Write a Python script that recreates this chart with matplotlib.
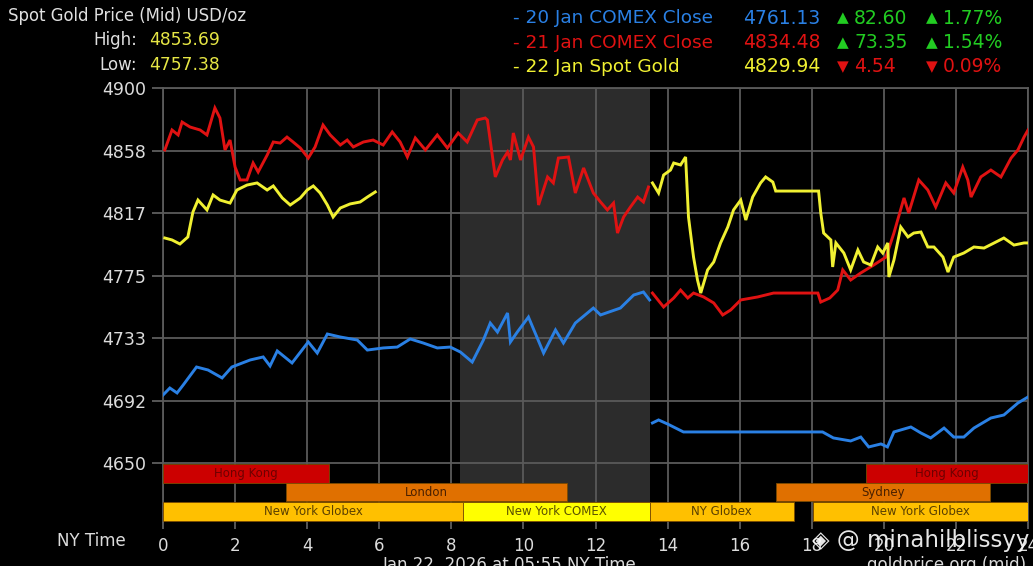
import matplotlib
matplotlib.use("Agg")
import matplotlib.pyplot as plt

# --- data (hours NY time, USD/oz) ---
blue1_h = [0, 0.19, 0.39, 0.56, 0.93, 1.25, 1.64, 1.91, 2.42, 2.78, 2.97, 3.17, 3.58, 4.03, 4.28,
           4.56, 4.92, 5.39, 5.67, 6.11, 6.5, 6.86, 7.22, 7.61, 7.97, 8.25, 8.58, 8.89, 9.08, 9.28,
           9.56, 9.64, 9.83, 10.14, 10.56, 10.89, 11.11, 11.44, 11.94, 12.14, 12.69, 13.06, 13.33, 13.5]
blue1_p = [4695.3, 4700, 4696.7, 4702, 4714, 4712, 4706.7, 4714, 4718.7, 4720.7, 4714.7, 4724.7,
           4716.7, 4730.7, 4723.3, 4736, 4734, 4732, 4725.3, 4726.7, 4727.3, 4732.7, 4730, 4726.7,
           4727.3, 4724, 4717.3, 4732, 4743.3, 4737.3, 4750, 4730.7, 4737.3, 4747.3, 4723.3, 4738.7,
           4730, 4743.3, 4753.3, 4748.7, 4753.3, 4762, 4764, 4758.7]
blue2_h = [13.58, 13.75, 14.0, 14.44, 18.3, 18.6, 19.08, 19.36, 19.58, 19.92, 20.1, 20.28, 20.75,
           21.03, 21.3, 21.67, 21.94, 22.22, 22.5, 22.97, 23.33, 23.72, 24.0]
blue2_p = [4676.7, 4678.7, 4676, 4670.7, 4670.7, 4666.7, 4664.7, 4667.3, 4660.7, 4662.7, 4660.7,
           4670.7, 4674, 4670, 4666.7, 4673.3, 4667.3, 4667.3, 4673.3, 4680, 4682, 4690, 4694]

red1_h = [0.05, 0.25, 0.42, 0.53, 0.75, 1.03, 1.22, 1.44, 1.58, 1.72, 1.86, 2.0, 2.14, 2.33, 2.5,
          2.64, 2.89, 3.06, 3.25, 3.44, 3.61, 3.81, 4.03, 4.22, 4.44, 4.64, 4.92, 5.11, 5.28, 5.56,
          5.83, 6.11, 6.36, 6.58, 6.78, 7.0, 7.28, 7.61, 7.89, 8.19, 8.44, 8.72, 8.94, 9.0, 9.22,
          9.42, 9.56, 9.64, 9.72, 9.92, 10.14, 10.28, 10.42, 10.67, 10.83, 10.97, 11.25, 11.44,
          11.67, 11.94, 12.14, 12.33, 12.5, 12.61, 12.78, 12.97, 13.17, 13.33, 13.47]
red1_p = [4858.7, 4872, 4868.7, 4877.3, 4874, 4872, 4868.7, 4886.7, 4880, 4858.7, 4865.3, 4847.3,
          4838.7, 4838.7, 4850, 4844, 4855.3, 4864, 4863.3, 4867.3, 4864, 4860, 4853.3, 4860.7,
          4875.3, 4868.7, 4862, 4865.3, 4860.7, 4864, 4865.3, 4862, 4870.7, 4864, 4854, 4866.7,
          4858.7, 4868.7, 4860, 4870, 4864, 4878.7, 4880, 4878.7, 4840.7, 4852, 4857.3, 4852, 4870,
          4852, 4867.3, 4860.7, 4822, 4840.7, 4836.7, 4853.3, 4854, 4830, 4846.7, 4830, 4824,
          4818.7, 4823.3, 4803.3, 4814, 4820.7, 4827.3, 4824, 4834]
red2_h = [13.58, 13.89, 14.17, 14.36, 14.56, 14.72, 15.0, 15.28, 15.53, 15.75, 16.03, 16.5, 16.94,
          18.17, 18.25, 18.5, 18.72, 18.86, 19.08, 19.36, 19.72, 20.06, 20.28, 20.56, 20.69, 20.97,
          21.22, 21.44, 21.72, 21.94, 22.19, 22.33, 22.42, 22.69, 22.97, 23.25, 23.53, 23.72,
          23.89, 24.0]
red2_p = [4763.3, 4754, 4760, 4765.3, 4760, 4763.3, 4760.7, 4756.7, 4748.7, 4752, 4758.7, 4760.7,
          4763.3, 4763.3, 4757.3, 4760, 4765.3, 4778.7, 4772, 4776.7, 4782, 4787.3, 4803.3, 4826.7,
          4816.7, 4838.7, 4832, 4820.7, 4836.7, 4830, 4847.3, 4838.7, 4827.3, 4840.7, 4845.3,
          4840.7, 4853.3, 4858.7, 4867.3, 4872]

yel1_h = [0.05, 0.25, 0.47, 0.69, 0.83, 0.97, 1.22, 1.39, 1.58, 1.86, 2.05, 2.33, 2.61, 2.89, 3.06,
          3.31, 3.53, 3.81, 4.0, 4.17, 4.36, 4.56, 4.72, 4.92, 5.19, 5.47, 5.67, 5.89]
yel1_p = [4800, 4798.7, 4796, 4800.7, 4817.3, 4825.3, 4818.7, 4828.7, 4825.3, 4823.3, 4832, 4835.3,
          4836.7, 4832, 4834.7, 4826.7, 4822, 4826.7, 4832, 4834.7, 4830, 4822, 4814, 4820, 4822.7,
          4824, 4827.3, 4830.7]
yel2_h = [13.58, 13.75, 13.89, 14.08, 14.17, 14.36, 14.5, 14.58, 14.72, 14.83, 14.92, 15.11, 15.28,
          15.47, 15.67, 15.83, 16.03, 16.17, 16.36, 16.58, 16.72, 16.92, 17.0, 18.19, 18.25, 18.33,
          18.53, 18.58, 18.67, 18.89, 19.08, 19.28, 19.44, 19.64, 19.83, 19.97, 20.11, 20.14, 20.28,
          20.47, 20.67, 20.83, 21.03, 21.22, 21.39, 21.64, 21.78, 21.94, 22.22, 22.5, 22.78, 23.06,
          23.33, 23.61, 23.89, 24.0]
yel2_p = [4836.7, 4830, 4842, 4845.3, 4850, 4848.7, 4854, 4814, 4787.3, 4772, 4763.3, 4778.7, 4784,
          4796.7, 4807.3, 4818.7, 4825.3, 4812, 4827.3, 4836.7, 4840.7, 4837.3, 4831.3, 4831.3,
          4816.7, 4803.3, 4798.7, 4780.7, 4796.7, 4790, 4778.7, 4792, 4784, 4782, 4794, 4790,
          4796.7, 4774, 4785.3, 4807.3, 4800.7, 4803.3, 4804, 4794, 4794, 4787.3, 4777.3, 4787.3,
          4790, 4794, 4793.3, 4796.7, 4800, 4795.3, 4796.7, 4796.7]

# trading sessions: name, start, end, row (0 = top)
sess_names = ["Hong Kong", "Hong Kong", "London", "Sydney", "New York Globex", "New York COMEX",
              "NY Globex", "New York Globex"]
sess_start = [0, 19.5, 3.42, 17.0, 0, 8.33, 13.5, 18.03]
sess_end = [4.6, 24, 11.22, 22.94, 8.33, 13.5, 17.5, 24]
sess_row = [0, 0, 1, 1, 2, 2, 2, 2]

legend_labels = ["- 20 Jan COMEX Close", "- 21 Jan COMEX Close", "- 22 Jan Spot Gold"]
legend_values = ["4761.13", "4834.48", "4829.94"]
legend_change = ["82.60", "73.35", "4.54"]
legend_pct = ["1.77%", "1.54%", "0.09%"]
legend_up = [True, True, False]

high_val = "4853.69"
low_val = "4757.38"

BLUE = "#2a80e4"
RED = "#e01212"
YEL = "#f0f032"
GREEN = "#22cc22"

W, H = 1033, 566
fig = plt.figure(figsize=(W / 100, H / 100), dpi=100, facecolor="black")


def fx(x):
    return x / W


def fy(y):
    return 1 - y / H


ax = fig.add_axes([fx(163), fy(522), (1028 - 163) / W, (522 - 88) / H])
ax.set_facecolor("black")
ax.set_xlim(0, 24)
ax.set_ylim(4610.67, 4900)

# shaded COMEX session
ax.axvspan(8.25, 13.5, color="#2c2c2c", zorder=0, lw=0)

yt = [4650 + i * 250 / 6 for i in range(7)]
ax.set_yticks(yt)
ax.set_yticklabels(["%d" % round(v) for v in yt])
ax.set_xticks(range(0, 25, 2))
ax.grid(True, color="#5a5a5a", lw=1.3, zorder=1)
for s in ax.spines.values():
    s.set_color("#5a5a5a")
    s.set_linewidth(1.3)
ax.spines["bottom"].set_visible(False)
ax.tick_params(axis="y", colors="#666666", labelcolor="#dcdcdc", labelsize=12.5, length=8, width=1.2, pad=4)
ax.tick_params(axis="x", colors="#666666", labelcolor="#dcdcdc", labelsize=12, length=5, width=1.2, pad=6)

# price lines
for hs, ps, c in [(blue1_h, blue1_p, BLUE), (blue2_h, blue2_p, BLUE),
                  (red1_h, red1_p, RED), (red2_h, red2_p, RED),
                  (yel1_h, yel1_p, YEL), (yel2_h, yel2_p, YEL)]:
    ax.plot(hs, ps, color=c, lw=2.1, zorder=3, solid_joinstyle="miter")

# session bars
row_y = [4643.0, 4630.6, 4617.8]
row_h = 12.4
sess_colors = {"Hong Kong": ("#cc0000", "#6e0000"), "London": ("#e07000", "#4a2000"),
               "Sydney": ("#e07000", "#4a2000"), "New York Globex": ("#ffc000", "#5a4000"),
               "NY Globex": ("#ffc000", "#5a4000"), "New York COMEX": ("#ffff00", "#5a5000")}
for name, a, b, r in zip(sess_names, sess_start, sess_end, sess_row):
    fc, tc = sess_colors[name]
    ax.barh(row_y[r], b - a, left=a, height=row_h, color=fc, edgecolor="#7a4a00", lw=0.6, zorder=4)
    ax.text((a + b) / 2, row_y[r], name, color=tc, fontsize=8.5, ha="center", va="center", zorder=5)

# header text
fig.text(fx(8), fy(16), "Spot Gold Price (Mid) USD/oz", color="#e0e0e0", fontsize=11.9, va="center")
fig.text(fx(137), fy(40), "High:", color="#e0e0e0", fontsize=12, va="center", ha="right")
fig.text(fx(149), fy(40), high_val, color="#e6e645", fontsize=12.3, va="center")
fig.text(fx(137), fy(65), "Low:", color="#e0e0e0", fontsize=12, va="center", ha="right")
fig.text(fx(149), fy(65), low_val, color="#e6e645", fontsize=12.3, va="center")

# legend block
leg_colors = [BLUE, RED, YEL]
for i in range(3):
    yy = fy(18 + i * 24.5)
    fig.text(fx(513), yy, legend_labels[i], color=leg_colors[i], fontsize=13.3, va="center")
    fig.text(fx(743), yy, legend_values[i], color=leg_colors[i], fontsize=13.5, va="center")
    c = GREEN if legend_up[i] else RED
    tri = "\u25b2" if legend_up[i] else "\u25bc"
    fig.text(fx(837), yy, tri, color=c, fontsize=11, va="center")
    fig.text(fx(854), yy, legend_change[i], color=c, fontsize=13.5, va="center")
    fig.text(fx(926), yy, tri, color=c, fontsize=11, va="center")
    fig.text(fx(943), yy, legend_pct[i], color=c, fontsize=13.5, va="center")

# footer
fig.text(fx(126), fy(541), "NY Time", color="#dcdcdc", fontsize=12, va="center", ha="right")
fig.text(fx(510), fy(556), "Jan 22, 2026 at 05:55 NY Time", color="#dcdcdc", fontsize=12,
         va="top", ha="center")
fig.text(fx(1026), fy(556), "goldprice.org (mid)", color="#dcdcdc", fontsize=12, va="top", ha="right")
fig.text(fx(812), fy(541), "\u25c8 @ minahilblissyy", color="white", fontsize=16.5, va="center",
         alpha=0.9, zorder=10)

fig.savefig("out.png", dpi=100, facecolor="black")
